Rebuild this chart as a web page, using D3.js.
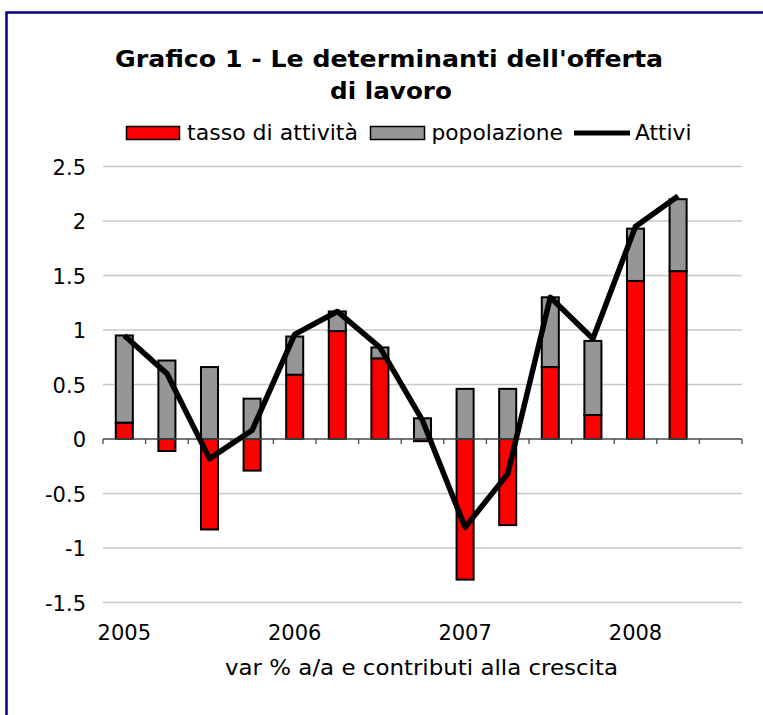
<!DOCTYPE html>
<html>
<head>
<meta charset="utf-8">
<script src="https://cdn.jsdelivr.net/npm/d3@7"></script>
<style>
  html, body { margin: 0; padding: 0; background: #fff; }
  svg { display: block; }
  text { font-family: "DejaVu Sans", Verdana, sans-serif; fill: #000; }
</style>
</head>
<body>
<svg id="chart" width="763" height="715"></svg>
<script>
// ---- data ----
const categories = ["2005-I","2005-II","2005-III","2005-IV","2006-I","2006-II","2006-III","2006-IV",
                    "2007-I","2007-II","2007-III","2007-IV","2008-I","2008-II","2008-III"];
const tickLabels = {"2005-I":"2005","2006-I":"2006","2007-I":"2007","2008-I":"2008"};
const tassoAttivita = [0.15, -0.11, -0.83, -0.29, 0.59, 0.99, 0.74, -0.02, -1.29, -0.79, 0.66, 0.22, 1.45, 1.54];
const popolazione   = [0.80, 0.72, 0.66, 0.37, 0.35, 0.18, 0.10, 0.19, 0.46, 0.46, 0.64, 0.68, 0.48, 0.66];
const attivi        = [0.95, 0.60, -0.18, 0.08, 0.96, 1.17, 0.84, 0.17, -0.81, -0.32, 1.30, 0.92, 1.95, 2.23];
const yTicks = [-1.5, -1, -0.5, 0, 0.5, 1, 1.5, 2, 2.5];
const seriesNames = ["tasso di attività", "popolazione", "Attivi"];
const titleLines = ["Grafico 1 - Le determinanti dell'offerta", "di lavoro"];
const xTitle = "var % a/a e contributi alla crescita";

(function () {
// ---- layout ----
const svg = d3.select("#chart");
const pL = 103, pR = 742, pT = 166.5, pB = 602.5;
const colors = { tasso: "#ff0000", pop: "#969696" };

function fit(el, target) {
  el.attr("textLength", target).attr("lengthAdjust", "spacingAndGlyphs");
  return el;
}

// frame
svg.append("rect").attr("x", 6.5).attr("y", 12.5).attr("width", 800).attr("height", 760)
  .attr("fill", "none").attr("stroke", "#000080").attr("stroke-width", 2.5);

const x = d3.scaleBand().domain(categories).range([pL, pR]).paddingInner(0.6).paddingOuter(0.3);
const xStep = d3.scaleBand().domain(categories).range([pL, pR]).padding(0);
const y = d3.scaleLinear().domain([-1.5, 2.5]).range([pB, pT]);

// gridlines
svg.append("g").selectAll("line").data(yTicks.filter(d => d !== 0)).join("line")
  .attr("x1", pL).attr("x2", pR)
  .attr("y1", d => y(d)).attr("y2", d => y(d))
  .attr("stroke", "#c8c8c8").attr("stroke-width", 1.3);

// y labels
const yAxis = d3.axisLeft(y).tickValues(yTicks).tickSize(0).tickPadding(0)
  .tickFormat(d => String(d));
const gy = svg.append("g").attr("transform", `translate(${pL - 17},0)`).call(yAxis);
gy.select(".domain").remove();
gy.selectAll("text").attr("font-size", 21).attr("font-family", "DejaVu Sans").attr("fill", "#000").attr("dy", "0.38em");

// stacked bars
const rows = categories.slice(0, tassoAttivita.length).map((c, i) => ({ cat: c, tasso: tassoAttivita[i], pop: popolazione[i] }));
const stack = d3.stack().keys(["tasso", "pop"]).offset(d3.stackOffsetDiverging);
const stacked = stack(rows);
svg.append("g").selectAll("g").data(stacked).join("g")
  .attr("fill", d => colors[d.key])
  .selectAll("rect").data(d => d).join("rect")
  .attr("x", d => x(d.data.cat))
  .attr("width", x.bandwidth())
  .attr("y", d => y(Math.max(d[0], d[1])))
  .attr("height", d => Math.abs(y(d[0]) - y(d[1])))
  .attr("stroke", "#000").attr("stroke-width", 2);

// x axis line at zero with ticks at category boundaries
const gx = svg.append("g");
gx.append("line").attr("x1", pL).attr("x2", pR).attr("y1", y(0)).attr("y2", y(0))
  .attr("stroke", "#4a4a4a").attr("stroke-width", 1.5);
const bounds = categories.map(c => xStep(c)).concat([pR]);
gx.selectAll("line.tick").data(bounds).join("line").attr("class", "tick")
  .attr("x1", d => d).attr("x2", d => d).attr("y1", y(0)).attr("y2", y(0) + 5)
  .attr("stroke", "#4a4a4a").attr("stroke-width", 1.3);

// x labels
const xAxis = d3.axisBottom(x).tickSize(0).tickPadding(0)
  .tickValues(Object.keys(tickLabels)).tickFormat(d => tickLabels[d]);
const gxl = svg.append("g").attr("transform", `translate(0,${640})`).call(xAxis);
gxl.select(".domain").remove();
gxl.selectAll("text").attr("font-size", 21).attr("font-family", "DejaVu Sans").attr("fill", "#000").attr("dy", 0);

// line
const line = d3.line().x((d, i) => x(categories[i]) + x.bandwidth() / 2).y(d => y(d));
svg.append("path").datum(attivi).attr("d", line)
  .attr("fill", "none").attr("stroke", "#000").attr("stroke-width", 5.5)
  .attr("stroke-linejoin", "round");

// x title
fit(svg.append("text").attr("x", 225).attr("y", 675)
  .attr("font-size", 21.5).text(xTitle), 393);

// title
const tt = svg.append("g");
const titleX = [115, 330], titleW = [548, 122];
titleLines.forEach((t, i) => {
  fit(tt.append("text").attr("x", titleX[i]).attr("y", 67 + i * 31.5)
    .attr("font-size", 23.5).attr("font-weight", "bold").text(t), titleW[i]);
});

// legend
const lg = svg.append("g");
const legendRow = 133;
lg.append("rect").attr("x", 126.5).attr("y", 126.5).attr("width", 53).attr("height", 13)
  .attr("fill", colors.tasso).attr("stroke", "#000").attr("stroke-width", 1.5);
fit(lg.append("text").attr("x", 187).attr("y", 140).attr("font-size", 22).text(seriesNames[0]), 171);
lg.append("rect").attr("x", 370.5).attr("y", 126.5).attr("width", 54).attr("height", 13)
  .attr("fill", colors.pop).attr("stroke", "#000").attr("stroke-width", 1.5);
fit(lg.append("text").attr("x", 431.5).attr("y", 140).attr("font-size", 22).text(seriesNames[1]), 131.5);
lg.append("line").attr("x1", 574).attr("x2", 630).attr("y1", legendRow).attr("y2", legendRow)
  .attr("stroke", "#000").attr("stroke-width", 5);
fit(lg.append("text").attr("x", 635).attr("y", 140).attr("font-size", 22).text(seriesNames[2]), 56.5);
})();
</script>
</body>
</html>
